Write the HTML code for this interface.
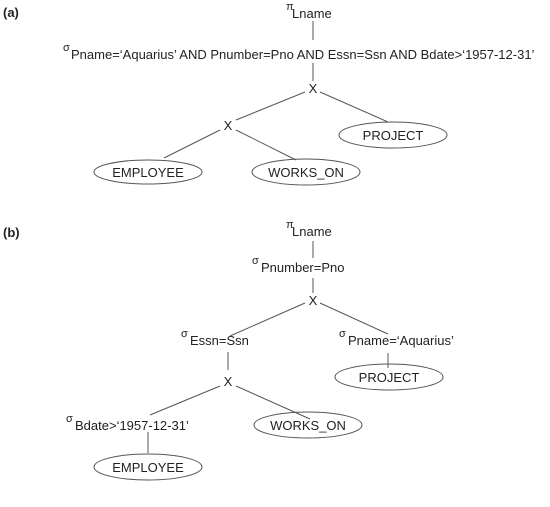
<!DOCTYPE html>
<html><head><meta charset="utf-8"><style>
body{margin:0;background:#fff}
svg{display:block}
text{font-family:"Liberation Sans",Arial,sans-serif;fill:#222}
</style></head><body>
<svg width="550" height="507" viewBox="0 0 550 507" xmlns="http://www.w3.org/2000/svg">
<g stroke="#555" stroke-width="1" fill="none">
<!-- (a) -->
<line x1="313" y1="21" x2="313" y2="40"/>
<line x1="313" y1="63" x2="313" y2="81"/>
<line x1="305" y1="92" x2="236" y2="120"/>
<line x1="320" y1="92" x2="388" y2="122"/>
<line x1="220" y1="130" x2="164" y2="158"/>
<line x1="236" y1="130" x2="296" y2="160"/>
<ellipse cx="393" cy="135" rx="54" ry="13"/>
<ellipse cx="148" cy="172" rx="54" ry="12"/>
<ellipse cx="306" cy="172" rx="54" ry="13"/>
<!-- (b) -->
<line x1="313" y1="241" x2="313" y2="258"/>
<line x1="313" y1="278" x2="313" y2="293"/>
<line x1="305" y1="303" x2="230" y2="336"/>
<line x1="320" y1="303" x2="388" y2="334"/>
<line x1="388" y1="353" x2="388" y2="368"/>
<ellipse cx="389" cy="377" rx="54" ry="13"/>
<line x1="228" y1="352" x2="228" y2="370"/>
<line x1="220" y1="386" x2="150" y2="415"/>
<line x1="236" y1="386" x2="310" y2="419"/>
<ellipse cx="308" cy="425" rx="54" ry="13"/>
<line x1="148" y1="432" x2="148" y2="453"/>
<ellipse cx="148" cy="467" rx="54" ry="13"/>
</g>
<g font-size="13">
<text x="3" y="17" font-weight="bold">(a)</text>
<text x="286" y="10" font-size="11">π</text>
<text x="292" y="18">Lname</text>
<text x="63" y="51" font-size="11">σ</text>
<text x="71" y="59">Pname=‘Aquarius’ AND Pnumber=Pno AND Essn=Ssn AND Bdate&gt;‘1957-12-31’</text>
<text x="313" y="93" text-anchor="middle">X</text>
<text x="228" y="130" text-anchor="middle">X</text>
<text x="393" y="140" text-anchor="middle">PROJECT</text>
<text x="148" y="177" text-anchor="middle">EMPLOYEE</text>
<text x="306" y="177" text-anchor="middle">WORKS_ON</text>

<text x="3" y="237" font-weight="bold">(b)</text>
<text x="286" y="228" font-size="11">π</text>
<text x="292" y="236">Lname</text>
<text x="252" y="264" font-size="11">σ</text>
<text x="261" y="272">Pnumber=Pno</text>
<text x="313" y="305" text-anchor="middle">X</text>
<text x="181" y="337" font-size="11">σ</text>
<text x="190" y="345">Essn=Ssn</text>
<text x="339" y="337" font-size="11">σ</text>
<text x="348" y="345">Pname=‘Aquarius’</text>
<text x="389" y="382" text-anchor="middle">PROJECT</text>
<text x="228" y="386" text-anchor="middle">X</text>
<text x="66" y="422" font-size="11">σ</text>
<text x="75" y="430">Bdate&gt;‘1957-12-31’</text>
<text x="308" y="430" text-anchor="middle">WORKS_ON</text>
<text x="148" y="472" text-anchor="middle">EMPLOYEE</text>
</g>
</svg>
</body></html>
